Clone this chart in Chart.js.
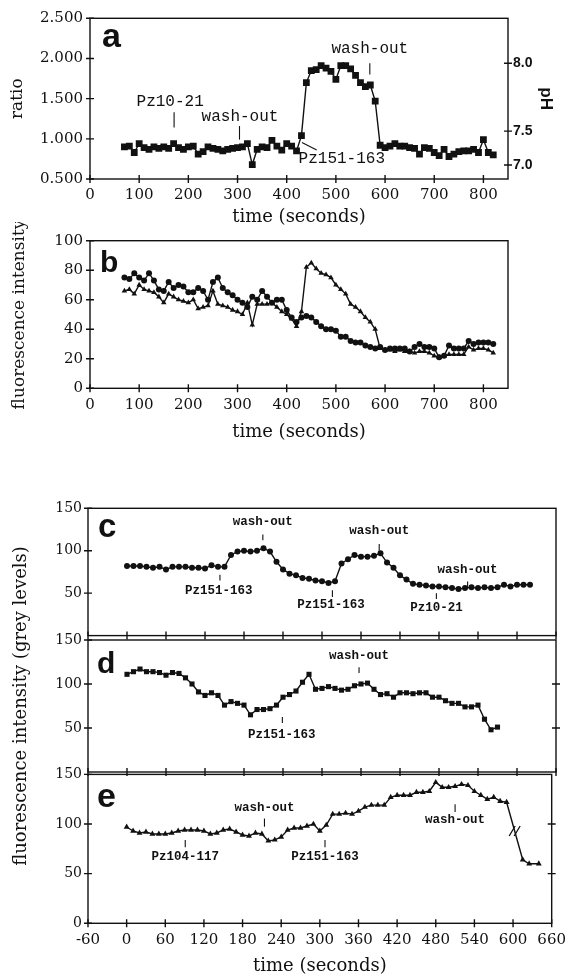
<!DOCTYPE html>
<html><head><meta charset="utf-8">
<script src="https://cdn.jsdelivr.net/npm/chart.js@4/dist/chart.umd.min.js"></script>
<style>
html,body{margin:0;padding:0;background:#fff;}
#wrap{position:relative;width:574px;height:978px;overflow:hidden;background:#fff;}
canvas{position:absolute;left:0;}
</style></head><body><div id="wrap">
<canvas id="ca" width="574" height="230" style="top:0px"></canvas>
<canvas id="cb" width="574" height="223" style="top:222px"></canvas>
<canvas id="cc" width="574" height="160" style="top:490px"></canvas>
<canvas id="cd" width="574" height="420" style="top:480px"></canvas>
<canvas id="ce" width="574" height="218" style="top:760px"></canvas>
</div>
<script>
// ---------- data ----------
const timeA = [70,80,90,100,110,120,130,140,150,160,170,180,190,200,210,220,230,240,250,260,270,280,290,300,310,320,330,340,350,360,370,380,390,400,410,420,430,440,450,460,470,480,490,500,510,520,530,540,550,560,570,580,590,600,610,620,630,640,650,660,670,680,690,700,710,720,730,740,750,760,770,780,790,800,810,820];
const ratioA = [0.90,0.91,0.83,0.94,0.89,0.87,0.90,0.88,0.90,0.88,0.94,0.89,0.87,0.90,0.91,0.81,0.84,0.90,0.88,0.87,0.85,0.87,0.88,0.89,0.90,0.94,0.68,0.87,0.90,0.89,0.98,0.91,0.86,0.94,0.91,0.85,
  1.04,1.70,1.85,1.86,1.91,1.88,1.84,1.74,1.91,1.91,1.87,1.79,1.70,1.65,1.67,1.47,
  0.92,0.89,0.91,0.94,0.91,0.91,0.89,0.88,0.81,0.89,0.88,0.83,0.79,0.87,0.78,0.81,0.84,0.85,0.85,0.87,0.83,0.99,0.83,0.80];
const timeB = timeA;
const circlesB = [75,74,78,75,73,78,73,67,66,72,68,70,69,65,65,68,66,60,72,75,68,65,63,60,58,55,62,60,66,62,58,60,60,53,48,45,
  48,49,48,45,42,40,40,39,35,35,32,31,31,29,28,27,
  28,26,27,27,27,27,25,28,30,28,28,27,21,22,29,27,27,27,32,30,31,31,31,30];
const trianglesB = [66,67,64,70,67,66,65,62,58,64,62,60,59,58,60,54,55,56,66,57,56,55,53,52,50,58,43,57,57,57,58,55,52,50,47,42,
  52,82,85,81,78,77,75,70,67,64,57,55,52,48,45,40,
  27,26,26,25,26,25,25,24,25,25,24,22,21,22,23,23,23,23,28,26,27,27,26,24];
const timeC = [0,10,20,30,40,50,60,70,80,90,100,110,120,130,140,150,160,170,180,190,200,210,220,230,240,250,260,270,280,290,300,310,320,330,340,350,360,370,380,390,400,410,420,430,440,450,460,470,480,490,500,510,520,530,540,550,560,570,580,590,600,610,620];
const greyC = [82,82,82,81,80,81,78,81,81,81,80,80,79,83,81,81,95,99,100,99,100,103,99,87,78,73,71,68,67,65,64,62,64,85,90,95,93,93,94,97,86,80,71,66,61,60,59,58,58,57,56,55,56,57,56,57,56,57,60,58,60,60,60];
const timeD = [0,10,20,30,40,50,60,70,80,90,100,110,120,130,140,150,160,170,180,190,200,210,220,230,240,250,260,270,280,290,300,310,320,330,340,350,360,370,380,390,400,410,420,430,440,450,460,470,480,490,500,510,520,530,540,550,560,570];
const greyD = [111,114,117,114,114,113,110,113,112,107,100,91,87,90,87,76,80,78,76,65,71,71,72,76,85,88,92,102,111,94,95,97,95,93,94,98,100,101,94,88,89,85,90,90,89,90,90,85,85,81,78,78,74,74,76,60,48,51];
const timeE = [0,10,20,30,40,50,60,70,80,90,100,110,120,130,140,150,160,170,180,190,200,210,220,230,240,250,260,270,280,290,300,310,320,330,340,350,360,370,380,390,400,410,420,430,440,450,460,470,480,490,500,510,520,530,540,550,560,570,580,590,615,625,640];
const greyE = [97,93,91,92,90,90,90,91,93,94,94,94,93,90,91,94,95,92,89,88,91,90,83,84,87,94,96,96,98,100,93,99,110,110,111,110,113,117,119,119,119,127,129,129,129,132,132,133,142,137,137,138,140,139,133,129,125,127,123,122,64,60,60];

// tick values / labels
const ticksTimeAB = [0,100,200,300,400,500,600,700,800];
const ticksRatio = [0.5,1.0,1.5,2.0,2.5];
const phLabels = ['8.0','7.5','7.0'];
const phAtRatio = [1.94,1.096,0.674];
const ticksFluorB = [0,20,40,60,80,100];
const ticksTimeCDE = [-60,0,60,120,180,240,300,360,420,480,540,600,660];
const ticksGreyCD = [50,100,150];
const ticksGreyE = [0,50,100,150];

// annotations (data coordinates)
const notesA = [
  {text:'Pz10-21', x:171, tx:163, ty:1.46, y1:1.33, y2:1.14},
  {text:'wash-out', x:304, tx:305, ty:1.27, y1:1.16, y2:0.99},
  {text:'wash-out', x:569, ty:2.12, y1:1.94, y2:1.80},
  {text:'Pz151-163', x:512, ty:0.755, leader:[431,0.953,461,0.862]}
];
const notesC = [
  {text:'wash-out', x:209, ty:134.4, y1:119, y2:112.5},
  {text:'Pz151-163', x:143, tx:141, ty:52.3, y1:71.6, y2:64.8},
  {text:'Pz151-163', x:316, tx:314, ty:36.4, y1:53.4, y2:45.5},
  {text:'wash-out', x:388, ty:123, y1:108, y2:100},
  {text:'Pz10-21', x:476, ty:32.2, y1:50, y2:43.2},
  {text:'wash-out', x:524, ty:77.6, y1:63.6, y2:56.8}
];
const notesD = [
  {text:'Pz151-163', x:239, tx:238, ty:42, y1:62.5, y2:55.7},
  {text:'wash-out', x:357, ty:131.8, y1:119, y2:112.5}
];
const notesE = [
  {text:'Pz104-117', x:91, ty:66.6, y1:84, y2:76.5},
  {text:'wash-out', x:214, ty:116, y1:105.5, y2:97.3},
  {text:'Pz151-163', x:308, ty:66.6, y1:84, y2:76.5},
  {text:'wash-out', x:510, ty:104, y1:120, y2:112}
];

// ---------- styling helpers ----------
const INK = '#111';
const SERIF = 'DejaVu Serif';
const SANS = 'Liberation Sans';
const MONO = 'Liberation Mono';

const deco = {
  id: 'deco',
  afterDraw(chart, args, o) {
    const ctx = chart.ctx, ca = chart.chartArea;
    const xs = chart.scales.x, ys = chart.scales.y;
    ctx.save();
    ctx.strokeStyle = INK; ctx.fillStyle = INK; ctx.lineWidth = 1.4;
    ctx.strokeRect(ca.left, ca.top, ca.right - ca.left, ca.bottom - ca.top);
    const L = 4;
    ctx.beginPath();
    (o.xTicks || []).forEach(v => { const p = xs.getPixelForValue(v); ctx.moveTo(p, ca.bottom - L); ctx.lineTo(p, ca.bottom + L); });
    (o.yTicks || []).forEach(v => { const p = ys.getPixelForValue(v); ctx.moveTo(ca.left - L, p); ctx.lineTo(ca.left + L, p); });
    (o.rTicks || []).forEach(v => { const p = ys.getPixelForValue(v); ctx.moveTo(ca.right - L, p); ctx.lineTo(ca.right + L, p); });
    ctx.stroke();
    ctx.lineWidth = 1.1;
    ctx.font = o.noteFont;
    ctx.textAlign = 'center'; ctx.textBaseline = 'middle';
    (o.notes || []).forEach(n => {
      ctx.fillText(n.text, xs.getPixelForValue(n.tx !== undefined ? n.tx : n.x), ys.getPixelForValue(n.ty));
      ctx.beginPath();
      if (n.y1 !== undefined) {
        const px = xs.getPixelForValue(n.x);
        ctx.moveTo(px, ys.getPixelForValue(n.y1)); ctx.lineTo(px, ys.getPixelForValue(n.y2));
      }
      if (n.leader) {
        ctx.moveTo(xs.getPixelForValue(n.leader[0]), ys.getPixelForValue(n.leader[1]));
        ctx.lineTo(xs.getPixelForValue(n.leader[2]), ys.getPixelForValue(n.leader[3]));
      }
      ctx.stroke();
    });
    if (o.breakAfter !== undefined) {
      const pts = chart.getDatasetMeta(0).data;
      const a = pts[o.breakAfter], b = pts[o.breakAfter + 1];
      const mx = (a.x + b.x) / 2, my = (a.y + b.y) / 2;
      ctx.lineWidth = 1.3;
      ctx.beginPath();
      [-2.5, 2.5].forEach(d => { ctx.moveTo(mx + d - 3, my + 5); ctx.lineTo(mx + d + 3, my - 5); });
      ctx.stroke();
    }
    if (o.letter) {
      ctx.font = 'bold ' + o.lsize + 'px "' + SANS + '"';
      ctx.textAlign = 'left'; ctx.textBaseline = 'alphabetic';
      ctx.fillText(o.letter, ca.left + o.ldx, ca.top + o.ldy);
    }
    ctx.restore();
  }
};
Chart.register(deco);

function xScale(min, max, ticks, height, opt) {
  return {
    type: 'linear', position: 'bottom', min: min, max: max,
    afterBuildTicks: s => { s.ticks = ticks.map(v => ({value: v})); },
    afterFit: s => { s.height = height; },
    grid: {display: false, drawTicks: false}, border: {display: false},
    ticks: {display: opt.labels !== false, padding: opt.pad || 6, autoSkip: false, maxRotation: 0, minRotation: 0,
            font: {family: SERIF, size: 15}, color: INK},
    title: opt.title ? {display: true, text: opt.title, color: INK, font: {family: SERIF, size: 18}, padding: {top: 0, bottom: opt.tpad}} : {display: false}
  };
}
function yScale(min, max, ticks, width, opt) {
  return {
    type: 'linear', position: 'left', min: min, max: max,
    afterBuildTicks: s => { s.ticks = ticks.map(v => ({value: v})); },
    afterFit: s => { s.width = width; },
    grid: {display: false, drawTicks: false}, border: {display: false},
    ticks: {padding: opt.pad, font: {family: SERIF, size: opt.size || 15}, color: INK,
            callback: opt.fmt || (v => String(v))},
    title: opt.title ? {display: true, text: opt.title, color: INK, font: {family: SERIF, size: opt.tsize || 17}, padding: {top: opt.tpad, bottom: 0}} : {display: false}
  };
}
function series(xs, ys, style, r) {
  return {data: xs.map((x, i) => ({x: x, y: ys[i]})), borderColor: INK, backgroundColor: INK,
          pointBackgroundColor: INK, pointBorderColor: INK, borderWidth: 1.4, pointStyle: style,
          pointRadius: r, pointBorderWidth: 0, tension: 0, fill: false};
}
function base(datasets, scales, pad, decoOpts) {
  return {
    type: 'line', data: {datasets: datasets},
    options: {
      responsive: false, animation: false, devicePixelRatio: 1, events: [],
      layout: {padding: pad},
      plugins: {legend: {display: false}, tooltip: {enabled: false}, deco: decoOpts},
      scales: scales
    }
  };
}

// ---------- panel a ----------
new Chart(document.getElementById('ca'), base(
  [series(timeA, ratioA, 'rect', 4.8)],
  {
    x: xScale(0, 850, ticksTimeAB, 51, {pad: 7, title: 'time (seconds)', tpad: 2}),
    y: yScale(0.5, 2.5, ticksRatio, 90, {pad: 7, fmt: v => v.toFixed(3), title: 'ratio', tpad: 7}),
    y1: {
      type: 'linear', position: 'right', min: 0.5, max: 2.5,
      afterBuildTicks: s => { s.ticks = phAtRatio.map(v => ({value: v})); },
      afterFit: s => { s.width = 66; },
      grid: {display: false, drawTicks: false}, border: {display: false},
      ticks: {padding: 5, font: {family: SANS, size: 14, weight: 'bold'}, color: INK, callback: (v, i) => phLabels[i]},
      title: {display: true, text: 'pH', color: INK, font: {family: SANS, size: 17, weight: 'bold'}, padding: {top: 18, bottom: 0}}
    }
  },
  {top: 18.3, left: 0, right: 0, bottom: 0},
  {xTicks: ticksTimeAB, yTicks: ticksRatio, rTicks: phAtRatio, notes: notesA,
   noteFont: '16px "' + MONO + '"', letter: 'a', lsize: 34, ldx: 12, ldy: 29}
));

// ---------- panel b ----------
new Chart(document.getElementById('cb'), base(
  [series(timeB, circlesB, 'circle', 3.0), series(timeB, trianglesB, 'triangle', 3.2)],
  {
    x: xScale(0, 850, ticksTimeAB, 56.7, {pad: 8, title: 'time (seconds)', tpad: 2}),
    y: yScale(0, 100, ticksFluorB, 90, {pad: 7, title: 'fluorescence intensity', tpad: 9})
  },
  {top: 18.7, left: 0, right: 66, bottom: 0},
  {xTicks: ticksTimeAB, yTicks: ticksFluorB, letter: 'b', lsize: 30, ldx: 10, ldy: 31}
));

// ---------- panel c ----------
new Chart(document.getElementById('cc'), base(
  [series(timeC, greyC, 'circle', 3.0)],
  {
    x: xScale(-60, 660, ticksTimeCDE, 10, {labels: false}),
    y: yScale(0, 150, ticksGreyCD, 88, {pad: 6, size: 14})
  },
  {top: 18.3, left: 0, right: 18, bottom: 0},
  {xTicks: ticksTimeCDE, yTicks: ticksGreyCD, notes: notesC,
   noteFont: 'bold 12.5px "' + MONO + '"', letter: 'c', lsize: 33, ldx: 10, ldy: 29}
));

// ---------- panel d ----------
new Chart(document.getElementById('cd'), base(
  [series(timeD, greyD, 'rect', 3.6)],
  {
    x: xScale(-60, 660, ticksTimeCDE, 128, {labels: false}),
    y: yScale(0, 150, ticksGreyCD, 88, {pad: 6, size: 14, title: 'fluorescence intensity (grey levels)', tsize: 18, tpad: 11})
  },
  {top: 160, left: 0, right: 18, bottom: 0},
  {xTicks: ticksTimeCDE, yTicks: ticksGreyCD, rTicks: [50, 100], notes: notesD,
   noteFont: 'bold 12.5px "' + MONO + '"', letter: 'd', lsize: 30, ldx: 9, ldy: 33}
));

// ---------- panel e ----------
new Chart(document.getElementById('ce'), base(
  [series(timeE, greyE, 'triangle', 3.4)],
  {
    x: xScale(-60, 660, ticksTimeCDE, 54.7, {pad: 8, title: 'time (seconds)', tpad: 0.5}),
    y: yScale(0, 150, ticksGreyE, 88, {pad: 6, size: 14})
  },
  {top: 11.7, left: 0, right: 18, bottom: 0},
  {xTicks: ticksTimeCDE, yTicks: ticksGreyE, rTicks: [50, 100], notes: notesE,
   noteFont: 'bold 12.5px "' + MONO + '"', letter: 'e', lsize: 34, ldx: 9, ldy: 33, breakAfter: 59}
));
</script>
</body></html>
